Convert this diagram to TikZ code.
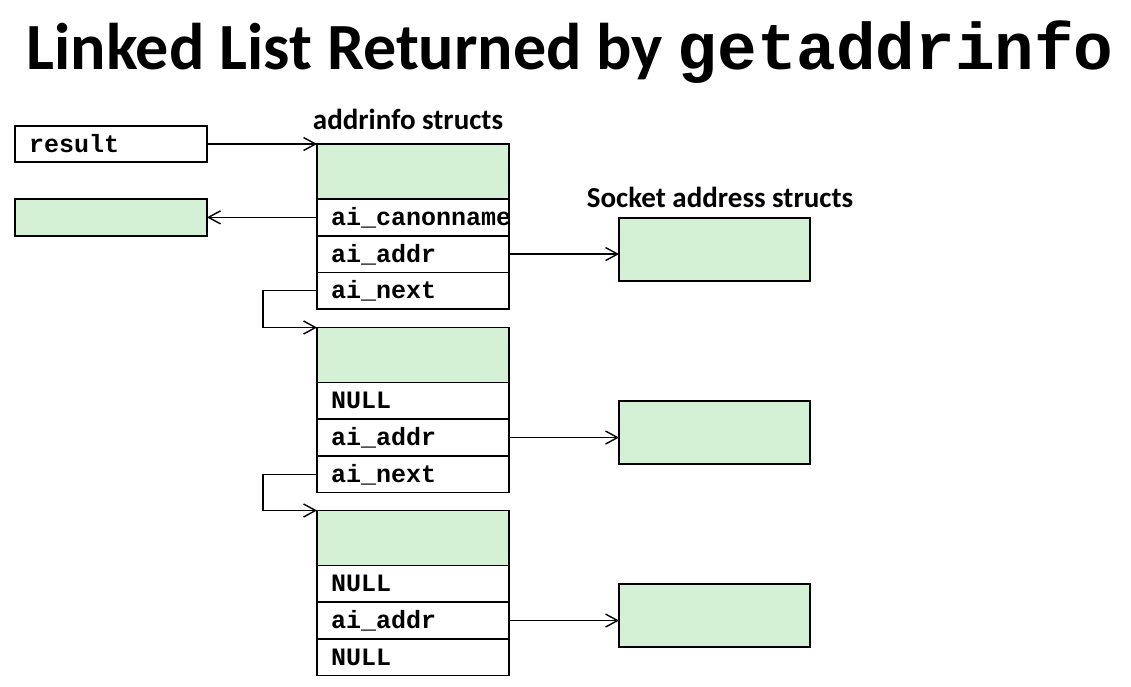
\documentclass[tikz,border=0pt]{standalone}
\usepackage{fontspec}
\setmainfont{Carlito}
\newfontfamily\cour{Liberation Mono}
\usetikzlibrary{arrows.meta}
\definecolor{boxgreen}{HTML}{D5F1D5}
\begin{document}
\begin{tikzpicture}[x=1pt,y=-1pt,
  box/.style={draw, line width=1.6pt, minimum width=192pt, minimum height=36.7pt, inner sep=0pt, outer sep=0pt, anchor=north west},
  greenbox/.style={box, fill=boxgreen},
  field/.style={box, text width=164pt, align=left, inner xsep=14pt,
    font=\cour\bfseries\fontsize{25}{25}\selectfont, text height=19pt, text depth=3pt},
  arr/.style={line width=1.4pt, -{Straight Barb[length=12pt,width=13pt]}},
  lab/.style={font=\bfseries\fontsize{29}{29}\selectfont, anchor=base, inner sep=0pt}
]
\useasboundingbox (0,0) rectangle (1131,686);
\node[font=\bfseries\fontsize{66}{66}\selectfont, anchor=base, inner sep=0pt] (title) at (570,69) {Linked List Returned by {\cour getaddrinfo}};
\node[lab] (lab1) at (408,129) {addrinfo structs};
\node[lab] (lab2) at (720,207) {Socket address structs};
% left boxes
\node[field, minimum height=36pt] (result) at (15,126) {result};
\node[greenbox] (canon) at (15,199) {};
% struct 1
\node[greenbox, minimum height=55pt] (g1) at (317,144) {};
\node[field] (c1) at (g1.south west) {ai\_canonname};
\node[field] (a1) at (c1.south west) {ai\_addr};
\node[field] (n1) at (a1.south west) {ai\_next};
% struct 2
\node[greenbox, minimum height=55pt] (g2) at (317,327.5) {};
\node[field] (u2) at (g2.south west) {NULL};
\node[field] (a2) at (u2.south west) {ai\_addr};
\node[field] (n2) at (a2.south west) {ai\_next};
% struct 3
\node[greenbox, minimum height=55pt] (g3) at (317,510.5) {};
\node[field] (u3) at (g3.south west) {NULL};
\node[field] (a3) at (u3.south west) {ai\_addr};
\node[field] (z3) at (a3.south west) {NULL};
% socket boxes
\node[greenbox, minimum width=191pt, minimum height=63.5pt] (s1) at (619,217.7) {};
\node[greenbox, minimum width=191pt, minimum height=63.5pt] (s2) at (619,400.7) {};
\node[greenbox, minimum width=191pt, minimum height=63.5pt] (s3) at (619,583.7) {};
% connectors
\draw[arr] (result.east) -- (g1.north west);
\draw[arr] (c1.west) -- (canon.east);
\draw[arr] (a1.east) -- (a1.east -| s1.west);
\draw[arr] (a2.east) -- (a2.east -| s2.west);
\draw[arr] (a3.east) -- (a3.east -| s3.west);
\draw[arr] (n1.west) -- ++(-54,0) |- (g2.north west);
\draw[arr] (n2.west) -- ++(-54,0) |- (g3.north west);
\end{tikzpicture}
\end{document}
